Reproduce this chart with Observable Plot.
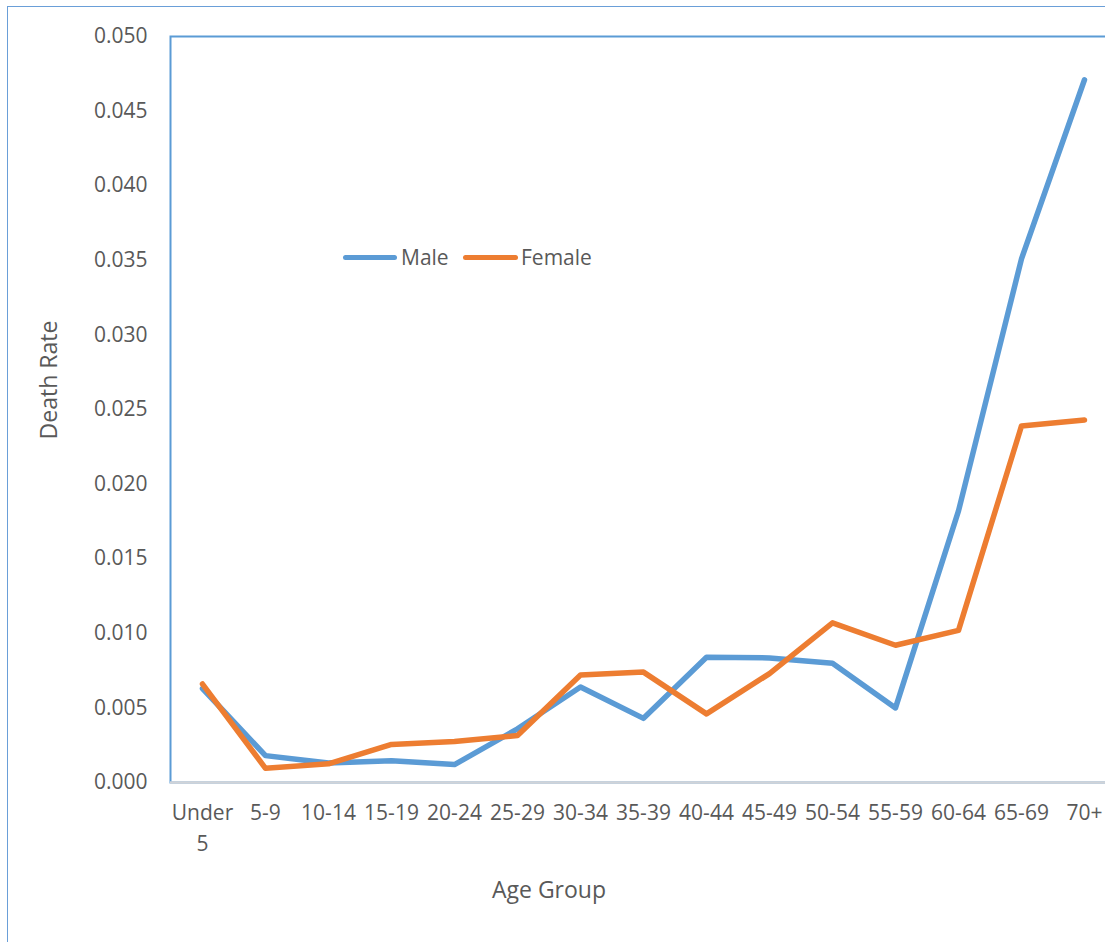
<!DOCTYPE html>
<html>
<head>
<meta charset="utf-8">
<script src="https://cdn.jsdelivr.net/npm/d3@7"></script>
<script src="https://cdn.jsdelivr.net/npm/@observablehq/plot@0.6"></script>
<style>
  html, body { margin: 0; padding: 0; background: #fff; }
  #wrap { position: relative; width: 1105px; height: 942px; overflow: hidden; font-family: "Open Sans", sans-serif; color: #595959; }
  #outer { position: absolute; left: 7px; top: 6px; width: 1200px; height: 1000px; border-left: 1.5px solid #6A9FD8; border-top: 1.5px solid #6A9FD8; }
  #chart { position: absolute; left: 0; top: 0; width: 1115px; }
  #chart svg { max-width: none !important; }
  .lab { position: absolute; font-size: 23px; white-space: nowrap; }
  .leg { position: absolute; height: 5px; border-radius: 3px; }
</style>
</head>
<body>
<div id="wrap">
  <div id="outer"></div>
  <div id="chart"></div>
  <div class="lab" id="xlab" style="left:549px; top:889px; transform:translate(-50%,-50%);">Age Group</div>
  <div class="lab" id="ylab" style="left:48px; top:380px; transform:translate(-50%,-50%) rotate(-90deg);">Death Rate</div>
  <div class="leg" style="left:343px; top:255px; width:54px; background:#5B9BD5;"></div>
  <div class="lab" style="left:401px; top:257px; transform:translateY(-50%); font-size:21px;">Male</div>
  <div class="leg" style="left:463px; top:255px; width:55px; background:#ED7D31;"></div>
  <div class="lab" style="left:521px; top:257px; transform:translateY(-50%); font-size:21px;">Female</div>
</div>
<script>
const ageGroups = ["Under 5","5-9","10-14","15-19","20-24","25-29","30-34","35-39","40-44","45-49","50-54","55-59","60-64","65-69","70+"];
const male   = [0.0063,0.0018,0.0013,0.00145,0.0012,0.0036,0.0064,0.0043,0.0084,0.00835,0.0080,0.0050,0.0182,0.0351,0.0471];
const female = [0.0066,0.00095,0.00125,0.00255,0.00275,0.00315,0.0072,0.0074,0.0046,0.0073,0.0107,0.0092,0.0102,0.0239,0.0243];
const yTicks = [0,0.005,0.010,0.015,0.020,0.025,0.030,0.035,0.040,0.045,0.050];

const rows = [];
ageGroups.forEach((g, i) => {
  rows.push({age: g, sex: "Male", rate: male[i]});
  rows.push({age: g, sex: "Female", rate: female[i]});
});

const chart = Plot.plot({
  width: 1115,
  height: 942,
  marginLeft: 170,
  marginRight: 0,
  marginTop: 36,
  marginBottom: 160,
  style: {fontFamily: "Open Sans, sans-serif", fontSize: "21px", color: "#595959", background: "transparent", maxWidth: "none"},
  x: {type: "point", domain: ageGroups, padding: 0.5},
  y: {domain: [0, 0.05]},
  color: {domain: ["Male","Female"], range: ["#5B9BD5","#ED7D31"]},
  marks: [
    Plot.frame({stroke: "#5B9BD5", strokeWidth: 2}),
    Plot.ruleY([0], {stroke: "#D0D3D8", strokeWidth: 2.5}),
    Plot.axisY({ticks: yTicks, tickSize: 0, tickPadding: 23, tickFormat: d3.format(".3f"), label: null, fill: "#595959", fontSize: 21}),
    Plot.axisX({tickSize: 0, tickPadding: 15, label: null, fill: "#595959", fontSize: 21, lineHeight: 1.5,
      tickFormat: d => d === "Under 5" ? "Under\n5" : d}),
    Plot.line(rows, {x: "age", y: "rate", z: "sex", stroke: "sex", strokeWidth: 5.5, strokeLinecap: "round", strokeLinejoin: "round"})
  ]
});
document.getElementById("chart").appendChild(chart);
</script>
</body>
</html>
